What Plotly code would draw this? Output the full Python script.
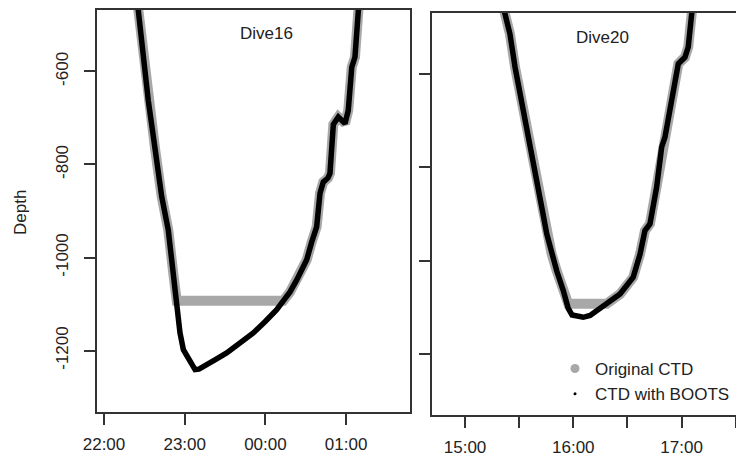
import plotly.graph_objects as go
import pandas as pd

# ---------------- data ----------------
dive16_time = ["22:24:42", "22:25:30", "22:29:12", "22:32:54", "22:37:54", "22:42:54",
               "22:47:48", "22:51:30", "22:54:06", "22:56:30", "22:59:00", "23:02:42",
               "23:05:12", "23:07:42", "23:10:36", "23:13:48", "23:22:30", "23:31:12",
               "23:41:06", "23:51:00", "23:59:42", "00:08:24", "00:13:18", "00:18:18",
               "00:23:18", "00:30:42", "00:34:24", "00:38:06", "00:40:36", "00:43:00",
               "00:46:30", "00:48:00", "00:50:30", "00:54:12", "00:59:12", "01:01:36",
               "01:04:12", "01:06:36", "01:09:06", "01:10:00"]
dive16_boots = [-448, -469, -566, -662, -765, -869, -941, -1034, -1098, -1162, -1198, -1216,
                -1230, -1241, -1240, -1234, -1220, -1205, -1184, -1162, -1138, -1112, -1093, -1074,
                -1048, -1005, -967, -934, -862, -838, -829, -819, -714, -698, -712, -684,
                -591, -569, -469, -448]
dive16_original = [-448, -469, -566, -662, -765, -869, -941, -1034, -1093, -1093, -1093, -1093,
                   -1093, -1093, -1093, -1093, -1093, -1093, -1093, -1093, -1093, -1093, -1093, -1074,
                   -1048, -1005, -967, -934, -862, -838, -829, -819, -714, -698, -712, -684,
                   -591, -569, -469, -448]

dive20_time = ["15:20:18", "15:22:12", "15:24:54", "15:27:42", "15:31:24", "15:34:12",
               "15:37:00", "15:39:42", "15:42:30", "15:45:18", "15:48:00", "15:50:48",
               "15:54:30", "15:57:12", "15:59:18", "16:01:54", "16:05:30", "16:09:18",
               "16:13:00", "16:18:30", "16:25:54", "16:33:12", "16:37:00", "16:39:42",
               "16:42:30", "16:46:12", "16:49:00", "16:50:48", "16:53:36", "16:56:18",
               "16:58:12", "17:01:54", "17:03:42", "17:05:36", "17:06:18"]
dive20_boots = [-441, -470, -513, -584, -656, -713, -763, -828, -885, -943, -986, -1022,
                -1065, -1103, -1117, -1119, -1122, -1118, -1108, -1093, -1072, -1036, -986, -936,
                -921, -842, -756, -735, -677, -620, -577, -563, -541, -470, -441]
dive20_original = [-441, -470, -513, -584, -656, -713, -763, -828, -885, -943, -986, -1022,
                   -1065, -1093, -1093, -1093, -1093, -1093, -1093, -1093, -1072, -1036, -986, -936,
                   -921, -842, -756, -735, -677, -620, -577, -563, -541, -470, -441]

dive16_ticks = ["22:00", "23:00", "00:00", "01:00"]
dive20_ticks = ["15:00", "15:30", "16:00", "16:30", "17:00", "17:30"]
dive20_ticktext = ["15:00", "", "16:00", "", "17:00", ""]
depth_ticks = [-600, -800, -1000, -1200]
depth_ticktext = ["-600", "-800", "-1000", "-1200"]

DAY16 = pd.Timestamp("2020-01-01")
DAY20 = pd.Timestamp("2020-01-05")


def stamp(day, hhmm, wrap=False):
    t = pd.Timestamp(f"{day.date()} {hhmm}")
    if wrap and t.hour < 12:
        t += pd.Timedelta(days=1)
    return t


x16 = [stamp(DAY16, t, True) for t in dive16_time]
x20 = [stamp(DAY20, t) for t in dive20_time]
tv16 = [stamp(DAY16, t, True) for t in dive16_ticks]
tv20 = [stamp(DAY20, t) for t in dive20_ticks]

GRAY = "#A8A8A8"
AX = "#333333"
TXT = "#222222"
FONT = "Liberation Sans, Arial, sans-serif"
FS = 17

# page body has an 8px margin: figure occupies window pixels 8..744 x 8..460
OFF = 8
W, H = 744 - OFF, 460 - OFF


def px(x):
    return (x - OFF) / W


def py(y):
    return 1 - (y - OFF) / H


fig = go.Figure()

fig.add_trace(go.Scatter(x=x16, y=dive16_original, mode="lines",
                         line=dict(color=GRAY, width=10), showlegend=False,
                         xaxis="x", yaxis="y"))
fig.add_trace(go.Scatter(x=x16, y=dive16_boots, mode="lines",
                         line=dict(color="black", width=5.5), showlegend=False,
                         xaxis="x", yaxis="y"))
fig.add_trace(go.Scatter(x=x20, y=dive20_original, mode="lines",
                         line=dict(color=GRAY, width=10), showlegend=False,
                         xaxis="x2", yaxis="y2"))
fig.add_trace(go.Scatter(x=x20, y=dive20_boots, mode="lines",
                         line=dict(color="black", width=5.5), showlegend=False,
                         xaxis="x2", yaxis="y2"))
# legend entries
fig.add_trace(go.Scatter(x=[None], y=[None], mode="markers", name="Original CTD",
                         marker=dict(color=GRAY, size=9), xaxis="x2", yaxis="y2"))
fig.add_trace(go.Scatter(x=[None], y=[None], mode="markers", name="CTD with BOOTS",
                         marker=dict(color="black", size=3), xaxis="x2", yaxis="y2"))

axis_common = dict(showline=True, linecolor=AX, linewidth=1.5, ticks="outside",
                   ticklen=11, tickcolor=AX, tickwidth=1.5, showgrid=False, zeroline=False,
                   automargin=False,
                   tickfont=dict(family=FONT, size=FS, color=TXT))

fig.update_layout(
    template="none",
    width=W, height=H, margin=dict(l=0, r=0, t=0, b=0, pad=0),
    paper_bgcolor="white", plot_bgcolor="white",
    font=dict(family=FONT, size=FS, color=TXT),
    xaxis=dict(domain=[px(97), px(410)], anchor="y", type="date",
               range=[stamp(DAY16, "21:54:48"), stamp(DAY16, "01:47:30", True)],
               tickvals=tv16, ticktext=dive16_ticks, mirror=True,
               ticklabelstandoff=5, **axis_common),
    yaxis=dict(domain=[py(412), py(10)], anchor="x", range=[-1332, -468],
               tickvals=depth_ticks, ticktext=depth_ticktext, tickangle=-90, mirror=True,
               ticklabelstandoff=9, **axis_common),
    xaxis2=dict(domain=[px(432), 1.0], anchor="y2", type="date",
                range=[stamp(DAY20, "14:41:42"), stamp(DAY20, "17:34:36")],
                tickvals=tv20, ticktext=dive20_ticktext, mirror=True,
                ticklabelstandoff=5, **axis_common),
    yaxis2=dict(domain=[py(415), py(13)], anchor="x2", range=[-1332, -468],
                tickvals=depth_ticks, showticklabels=False, mirror=False, **axis_common),
    legend=dict(x=px(555), y=py(351), xanchor="left", yanchor="top",
                bgcolor="rgba(0,0,0,0)", font=dict(family=FONT, size=FS, color=TXT),
                tracegroupgap=0, itemwidth=30),
    annotations=[
        dict(text="Dive16", x=px(266), y=py(34), xref="paper", yref="paper",
             xanchor="center", yanchor="middle",
             showarrow=False, font=dict(family=FONT, size=FS, color=TXT)),
        dict(text="Dive20", x=px(602), y=py(37), xref="paper", yref="paper",
             xanchor="center", yanchor="middle",
             showarrow=False, font=dict(family=FONT, size=FS, color=TXT)),
        dict(text="Depth", x=px(20), y=py(213), xref="paper", yref="paper",
             xanchor="center", yanchor="middle",
             showarrow=False, textangle=-90, font=dict(family=FONT, size=FS, color=TXT)),
    ],
)

fig.write_html("out.html")
